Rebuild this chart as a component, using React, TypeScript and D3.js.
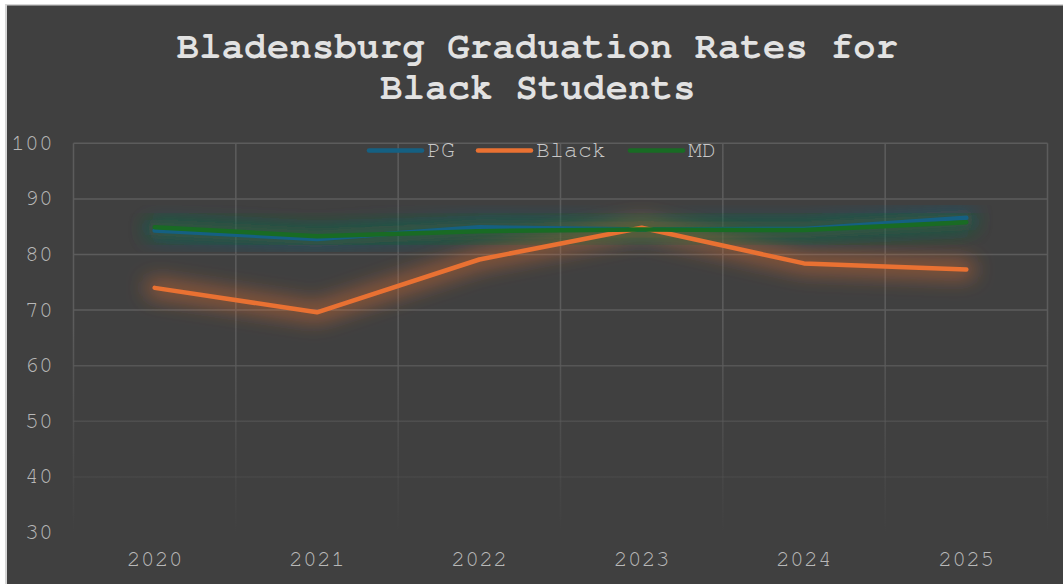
import React from "react";
import * as d3 from "d3";

const years = ["2020", "2021", "2022", "2023", "2024", "2025"];
const pgValues = [84.3, 82.8, 84.9, 84.5, 84.6, 86.6];
const blackValues = [74.0, 69.6, 79.1, 84.8, 78.4, 77.3];
const mdValues = [84.9, 83.3, 84.2, 84.5, 84.4, 85.8];
const yTicks = [30, 40, 50, 60, 70, 80, 90, 100];
const seriesNames = ["PG", "Black", "MD"];
const seriesColors = ["#156082", "#E97132", "#196B24"];

const W = 1063;
const H = 584;
const plot = { left: 73.5, right: 1047.5, top: 143.3, bottom: 532.5 };
const FONT = "'Nimbus Mono PS', 'FreeMono', 'Courier New', Courier, 'Liberation Mono', monospace";

export default function App() {
  const x = d3.scaleBand<string>().domain(years).range([plot.left, plot.right]);
  const y = d3.scaleLinear().domain([30, 100]).range([plot.bottom, plot.top]);
  const line = d3
    .line<number>()
    .x((_, i) => (x(years[i]) as number) + x.bandwidth() / 2)
    .y((v) => y(v));
  const series = [pgValues, blackValues, mdValues];
  const vLines = [...years.map((yr) => x(yr) as number), plot.right];

  return (
    <div style={{ position: "fixed", left: 0, top: 0, width: W, height: H }}>
      <svg width={W} height={H} style={{ display: "block" }}>
        <defs>
          <filter id="glow" x="-20%" y="-60%" width="140%" height="220%">
            <feGaussianBlur stdDeviation="10" />
          </filter>
          <linearGradient id="gridFade" gradientUnits="userSpaceOnUse" x1="0" y1={plot.top} x2="0" y2={plot.bottom}>
            <stop offset="0" stopColor="#5c5c5c" stopOpacity={1} />
            <stop offset="0.45" stopColor="#5c5c5c" stopOpacity={1} />
            <stop offset="1" stopColor="#5c5c5c" stopOpacity={0} />
          </linearGradient>
        </defs>
        <rect x={0} y={0} width={W} height={H} fill="#ffffff" />
        <rect x={5} y={4} width={W} height={H} fill="#d6d6d6" />
        <rect x={7} y={5.5} width={W} height={H} fill="#404040" />

        <text x={537.5} y={46} textAnchor="middle" dominantBaseline="central" fill="#e2e2e2" fontFamily={FONT} fontWeight="bold" fontSize={37} letterSpacing={0.35}>
          Bladensburg Graduation Rates for
        </text>
        <text x={538} y={87} textAnchor="middle" dominantBaseline="central" fill="#e2e2e2" fontFamily={FONT} fontWeight="bold" fontSize={37} letterSpacing={0.35}>
          Black Students
        </text>

        {yTicks.map((t) => (
          <line key={"h" + t} x1={plot.left} x2={plot.right} y1={y(t)} y2={y(t)} stroke="url(#gridFade)" strokeWidth={1.5} />
        ))}
        {vLines.map((vx, i) => (
          <rect key={"v" + i} x={vx - 0.75} y={plot.top} width={1.5} height={plot.bottom - plot.top} fill="url(#gridFade)" />
        ))}

        {yTicks.map((t) => (
          <text key={"yl" + t} x={53} y={y(t)} textAnchor="end" dominantBaseline="central" fill="#b8b8b8" fontFamily={FONT} fontSize={23} letterSpacing={0.2}>
            {t}
          </text>
        ))}
        {years.map((yr) => (
          <text key={"xl" + yr} x={(x(yr) as number) + x.bandwidth() / 2} y={559} textAnchor="middle" dominantBaseline="central" fill="#b8b8b8" fontFamily={FONT} fontSize={23} letterSpacing={0.2}>
            {yr}
          </text>
        ))}

        {series.map((vals, i) => (
          <path key={"g" + i} d={line(vals) || ""} fill="none" stroke={seriesColors[i]} strokeWidth={18} strokeOpacity={0.5} filter="url(#glow)" strokeLinecap="round" strokeLinejoin="round" />
        ))}
        {series.map((vals, i) => (
          <path key={"l" + i} d={line(vals) || ""} fill="none" stroke={seriesColors[i]} strokeWidth={4.5} strokeLinecap="round" strokeLinejoin="round" />
        ))}

        {seriesNames.map((name, i) => {
          const lx = [369, 478, 630][i];
          return (
            <g key={"lg" + name}>
              <line x1={lx} x2={lx + 53} y1={150.5} y2={150.5} stroke={seriesColors[i]} strokeWidth={4.5} strokeLinecap="round" />
              <text x={lx + 58} y={150} dominantBaseline="central" fill="#c8c8c8" fontFamily={FONT} fontSize={23} letterSpacing={0.2}>
                {name}
              </text>
            </g>
          );
        })}
      </svg>
    </div>
  );
}
